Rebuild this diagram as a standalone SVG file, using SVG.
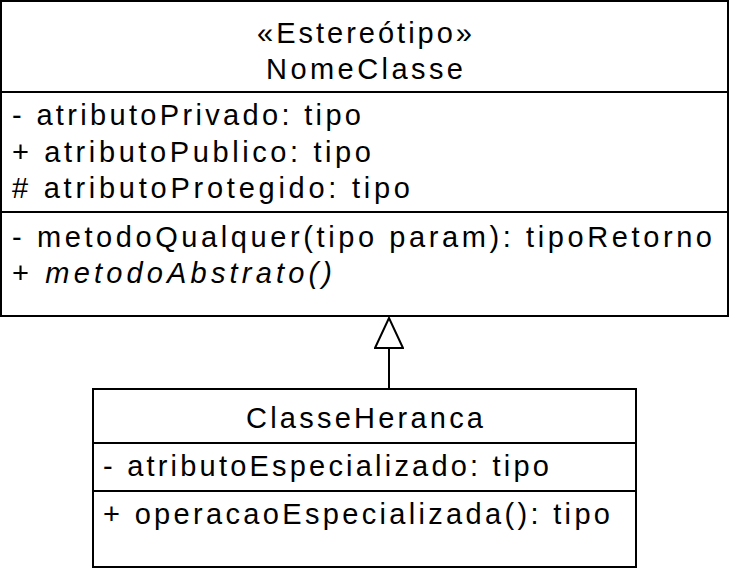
<svg xmlns="http://www.w3.org/2000/svg" width="729" height="570" viewBox="0 0 729 570">
<defs>
<style>
.box{fill:#fff;stroke:#000;stroke-width:2}
.sep{stroke:#000;stroke-width:2}
.t{font-family:"Liberation Sans",Arial,sans-serif;font-size:29px;fill:#000}
.c{text-anchor:middle}
.i{font-style:italic}
.edge{stroke:#000;stroke-width:2;fill:none}
</style>
<marker id="gen" viewBox="0 0 32 30" refX="31" refY="15" markerWidth="32" markerHeight="30" markerUnits="userSpaceOnUse" orient="auto">
<path d="M1,1 L31,15 L1,29 Z" fill="#fff" stroke="#000" stroke-width="2"/>
</marker>
</defs>
<g id="NomeClasse">
<rect class="box" x="1" y="1" width="727" height="315"/>
<line class="sep" x1="1" y1="92" x2="728" y2="92"/>
<line class="sep" x1="1" y1="212" x2="728" y2="212"/>
<text class="t c" x="364.5" y="43" textLength="215" lengthAdjust="spacing">«Estereótipo»</text>
<text class="t c" x="364.5" y="79" textLength="197" lengthAdjust="spacing">NomeClasse</text>
<text class="t" x="12" y="125" textLength="349" lengthAdjust="spacing">- atributoPrivado: tipo</text>
<text class="t" x="12" y="162" textLength="359" lengthAdjust="spacing">+ atributoPublico: tipo</text>
<text class="t" x="12" y="198" textLength="398" lengthAdjust="spacing"># atributoProtegido: tipo</text>
<text class="t" x="12" y="247" textLength="700" lengthAdjust="spacing">- metodoQualquer(tipo param): tipoRetorno</text>
<text class="t" x="12" y="283" textLength="320" lengthAdjust="spacing">+ <tspan class="i">metodoAbstrato()</tspan></text>
</g>
<g id="ClasseHeranca">
<rect class="box" x="93" y="389" width="543" height="178"/>
<line class="sep" x1="93" y1="443" x2="636" y2="443"/>
<line class="sep" x1="93" y1="491" x2="636" y2="491"/>
<text class="t c" x="364.5" y="428" textLength="237" lengthAdjust="spacing">ClasseHeranca</text>
<text class="t" x="103" y="476" textLength="446" lengthAdjust="spacing">- atributoEspecializado: tipo</text>
<text class="t" x="103" y="524" textLength="507" lengthAdjust="spacing">+ operacaoEspecializada(): tipo</text>
</g>
<g id="connectors">
<line class="edge" x1="389" y1="389" x2="389" y2="318" marker-end="url(#gen)"/>
</g>
</svg>
